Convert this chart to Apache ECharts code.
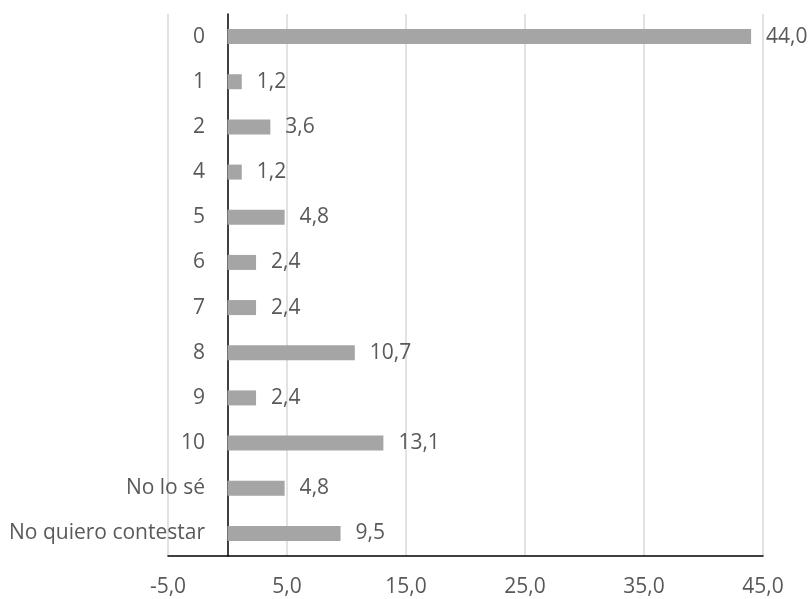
<!DOCTYPE html>
<html>
<head>
<meta charset="utf-8">
<script src="https://cdn.jsdelivr.net/npm/echarts@6/dist/echarts.min.js"></script>
<style>html,body{margin:0;padding:0;background:#fff}#c{width:808px;height:599px}</style>
</head>
<body>
<div id="c"></div>
<script>
const categories = ['0', '1', '2', '4', '5', '6', '7', '8', '9', '10', 'No lo sé', 'No quiero contestar'];
const values = [44.0, 1.2, 3.6, 1.2, 4.8, 2.4, 2.4, 10.7, 2.4, 13.1, 4.8, 9.5];
const xMin = -5, xMax = 45, xStep = 10;

const fmt = v => Number(v).toFixed(1).replace('.', ',');
const font = '"Open Sans", sans-serif';
const txt = '#595959';

const chart = echarts.init(document.getElementById('c'), null, {renderer: 'canvas'});
chart.setOption({
  animation: false,
  backgroundColor: '#ffffff',
  grid: {left: 168, right: 45, top: 14, bottom: 43, containLabel: false, outerBoundsMode: 'none'},
  xAxis: {
    type: 'value', min: xMin, max: xMax, interval: xStep,
    axisLine: {show: true, lineStyle: {color: '#000', width: 1.5}},
    axisTick: {show: false},
    splitLine: {show: true, lineStyle: {color: '#D9D9D9', width: 1.5}},
    axisLabel: {formatter: fmt, color: txt, fontSize: 21, fontFamily: font, margin: 21}
  },
  yAxis: {
    type: 'category', data: categories, inverse: true,
    axisLine: {show: true, onZero: true, lineStyle: {color: '#000', width: 1.5}},
    axisTick: {show: false},
    axisLabel: {color: txt, fontSize: 21, fontFamily: font, margin: -37}
  },
  series: [{
    type: 'bar', data: values, barWidth: 15,
    itemStyle: {color: '#A5A5A5'},
    label: {show: true, position: 'right', distance: 15, formatter: p => fmt(p.value),
            color: txt, fontSize: 21, fontFamily: font}
  }]
});
</script>
</body>
</html>
